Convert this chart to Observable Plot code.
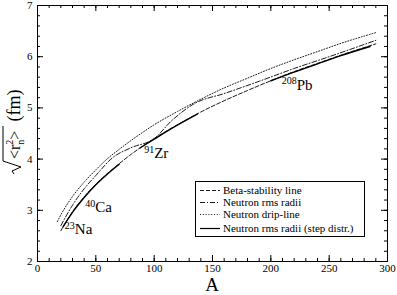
<!DOCTYPE html>
<html><head><meta charset="utf-8">
<script src="https://cdn.jsdelivr.net/npm/d3@7"></script>
<script src="https://cdn.jsdelivr.net/npm/@observablehq/plot@0.6"></script>
<style>
body{margin:0;background:#fff;}
#wrap{position:relative;width:397px;height:295px;font-family:"Liberation Serif","Times New Roman",serif;}
#legend{position:absolute;left:195px;top:181px;width:170px;height:56px;border:1px solid #000;box-sizing:border-box;background:#fff;}
#legend .row{position:absolute;left:0;height:12px;width:100%;font-size:11px;line-height:12px;}
#legend svg{position:absolute;left:3px;top:0;}
#legend span{position:absolute;left:27px;top:0;white-space:nowrap;}
</style>
</head><body><div id="wrap"></div>
<script>
// Beta-stability line (dashed)
const betaA = [20,23,30,40,50,60,70,80,90,100,120,140,160,180,200,220,240,260,290];
const betaR = [2.60,2.72,2.97,3.26,3.51,3.72,3.91,4.09,4.25,4.40,4.67,4.92,5.14,5.34,5.53,5.71,5.87,6.03,6.25];
// Neutron rms radii (dash-dot)
const rmsA = [20,30,40,50,64,80,100,115,135,160,190,220,250,290];
const rmsR = [2.70,3.10,3.42,3.68,4.02,4.22,4.40,4.75,5.09,5.28,5.52,5.77,6.00,6.32];
// Neutron drip-line (dotted)
const dripA = [17,20,30,40,50,60,70,80,90,100,120,140,160,180,200,220,240,260,290];
const dripR = [2.78,2.91,3.27,3.55,3.79,4.01,4.19,4.36,4.52,4.67,4.93,5.17,5.39,5.58,5.77,5.94,6.10,6.26,6.47];
// Neutron rms radii (step distr.) - solid, three segments
const stepA   = [22,30,40,50,60,70, 88,100,115,137, 200,220,240,260,285];
const stepR   = [2.68,2.96,3.25,3.50,3.71,3.90, 4.22,4.39,4.60,4.88, 5.53,5.70,5.86,6.02,6.20];
const stepSeg = [1,1,1,1,1,1, 2,2,2,2, 3,3,3,3,3];
// Nucleus labels
const nucMass = [23,40,91,208];
const nucName = ["Na","Ca","Zr","Pb"];
// Ticks
const xTicks = [0,50,100,150,200,250,300];
const yTicks = [2,3,4,5,6,7];
const legendNames = ["Beta-stability line","Neutron rms radii","Neutron drip-line","Neutron rms radii (step distr.)"];

const toRows = (A, R, extra) => A.map((a,i) => ({A:a, r:R[i], ...(extra ? {s: extra[i]} : {})}));
const beta = toRows(betaA, betaR);
const rms = toRows(rmsA, rmsR);
const drip = toRows(dripA, dripR);
const step = toRows(stepA, stepR, stepSeg);
const interp = (a) => { const i = d3.bisectLeft(betaA, a); if (betaA[i] === a) return betaR[i];
  const t = (a - betaA[i-1])/(betaA[i]-betaA[i-1]); return betaR[i-1] + t*(betaR[i]-betaR[i-1]); };
const nuc = nucMass.map((m,i) => ({A:m, r:interp(m), name:nucName[i], mass:String(m)}));
const off = {Na:{dx:1,dy:5}, Ca:{dx:1.5,dy:11}, Zr:{dx:1,dy:8}, Pb:{dx:2,dy:8}};

const font = "Liberation Serif, Times New Roman, serif";
const W = 397, H = 295, mL = 37, mR = 10, mT = 5, mB = 34;
const pw = W - mL - mR, ph = H - mT - mB;
const minorX = d3.range(0,301,10), majorX = xTicks;
const minorY = d3.range(2,7.001,0.2).map(v=>+v.toFixed(1)), majorY = yTicks;
const tk = {stroke:"#000", strokeWidth:1};

const chart = Plot.plot({
  width: W, height: H,
  marginLeft: mL, marginRight: mR, marginTop: mT, marginBottom: mB,
  style: {fontFamily: font, background: "#fff", color: "#000"},
  x: {domain: [0,300], axis: null},
  y: {domain: [2,7], axis: null},
  marks: [
    // inward ticks on all four sides
    Plot.ruleX(minorX, {...tk, insetTop: ph - 3}),
    Plot.ruleX(majorX, {...tk, insetTop: ph - 6}),
    Plot.ruleX(minorX, {...tk, insetBottom: ph - 3}),
    Plot.ruleX(majorX, {...tk, insetBottom: ph - 6}),
    Plot.ruleY(minorY, {...tk, insetRight: pw - 3}),
    Plot.ruleY(majorY, {...tk, insetRight: pw - 6}),
    Plot.ruleY(minorY, {...tk, insetLeft: pw - 3}),
    Plot.ruleY(majorY, {...tk, insetLeft: pw - 6}),
    Plot.axisX(xTicks, {anchor:"bottom", tickSize:0, tickPadding:3, fontSize:11, label:null, tickFormat: d=>String(d)}),
    Plot.axisY(yTicks, {anchor:"left", tickSize:0, tickPadding:5, fontSize:11, label:null, tickFormat: d=>String(d)}),
    Plot.frame({stroke:"#000", strokeWidth:1}),
    Plot.line(drip, {x:"A", y:"r", stroke:"#000", strokeWidth:0.9, strokeDasharray:"1,1.8", curve:"monotone-x"}),
    Plot.line(beta, {x:"A", y:"r", stroke:"#000", strokeWidth:0.9, strokeDasharray:"4,2", curve:"monotone-x"}),
    Plot.line(rms, {x:"A", y:"r", stroke:"#000", strokeWidth:0.9, strokeDasharray:"5,2,1,2", curve:"monotone-x"}),
    Plot.line(step, {x:"A", y:"r", z:"s", stroke:"#000", strokeWidth:1.4, curve:"monotone-x"})
  ]
});

const wrap = document.getElementById("wrap");
wrap.appendChild(chart);
const svg = d3.select(chart);
const xs = chart.scale("x"), ys = chart.scale("y");

// nucleus labels: superscript mass number + element symbol, placed with the plot's scales
const lab = svg.append("g").attr("font-family", font).attr("fill", "#000").attr("text-anchor", "start");
nuc.forEach(d => {
  const o = off[d.name];
  const x0 = xs.apply(d.A) + o.dx, base = ys.apply(d.r) + o.dy + 5;
  const t = lab.append("text").attr("x", x0).attr("y", base).attr("font-size", 15);
  t.append("tspan").attr("font-size", 10).attr("dy", -5.5).text(d.mass);
  t.append("tspan").attr("dy", 5.5).text(d.name);
});

// x-axis title
svg.append("text").attr("x", mL + pw/2).attr("y", 291).attr("text-anchor","middle")
  .attr("font-family", font).attr("font-size", 19).attr("fill","#000").text("A");

// y-axis title: sqrt(<r_n^2>) (fm), rotated
const g = svg.append("g").attr("transform","translate(20,130) rotate(-90)")
  .attr("font-family", font).attr("fill","#000").attr("text-anchor","start");
g.append("path").attr("d","M-44,-6 L-41,-8 L-37,1 L-31,-17 L4,-17").attr("fill","none").attr("stroke","#000").attr("stroke-width",1);
const t = g.append("text").attr("x",-29).attr("y",0).attr("font-size",16);
t.append("tspan").text("<r");
t.append("tspan").attr("font-size",10).attr("dy",4).text("n");
t.append("tspan").attr("font-size",10).attr("dx",-5).attr("dy",-11).text("2");
t.append("tspan").attr("dy",7).text(">");
t.append("tspan").attr("font-size",18).attr("dx",9).text("(fm)");

// legend
const leg = document.createElement("div");
leg.id = "legend";
const dashes = ["4,2", "5,2,1,2", "1,1.8", null];
const tops = [2, 14, 26, 40];
legendNames.forEach((name, i) => {
  const row = document.createElement("div");
  row.className = "row"; row.style.top = tops[i] + "px";
  const s = d3.create("svg").attr("width",22).attr("height",12);
  s.append("line").attr("x1",1).attr("x2",21).attr("y1",6.5).attr("y2",6.5).attr("stroke","#000")
    .attr("stroke-width", i===3?1.2:0.9).attr("stroke-dasharray", dashes[i]);
  row.appendChild(s.node());
  const sp = document.createElement("span"); sp.textContent = name; row.appendChild(sp);
  leg.appendChild(row);
});
wrap.appendChild(leg);
</script>
</body></html>
